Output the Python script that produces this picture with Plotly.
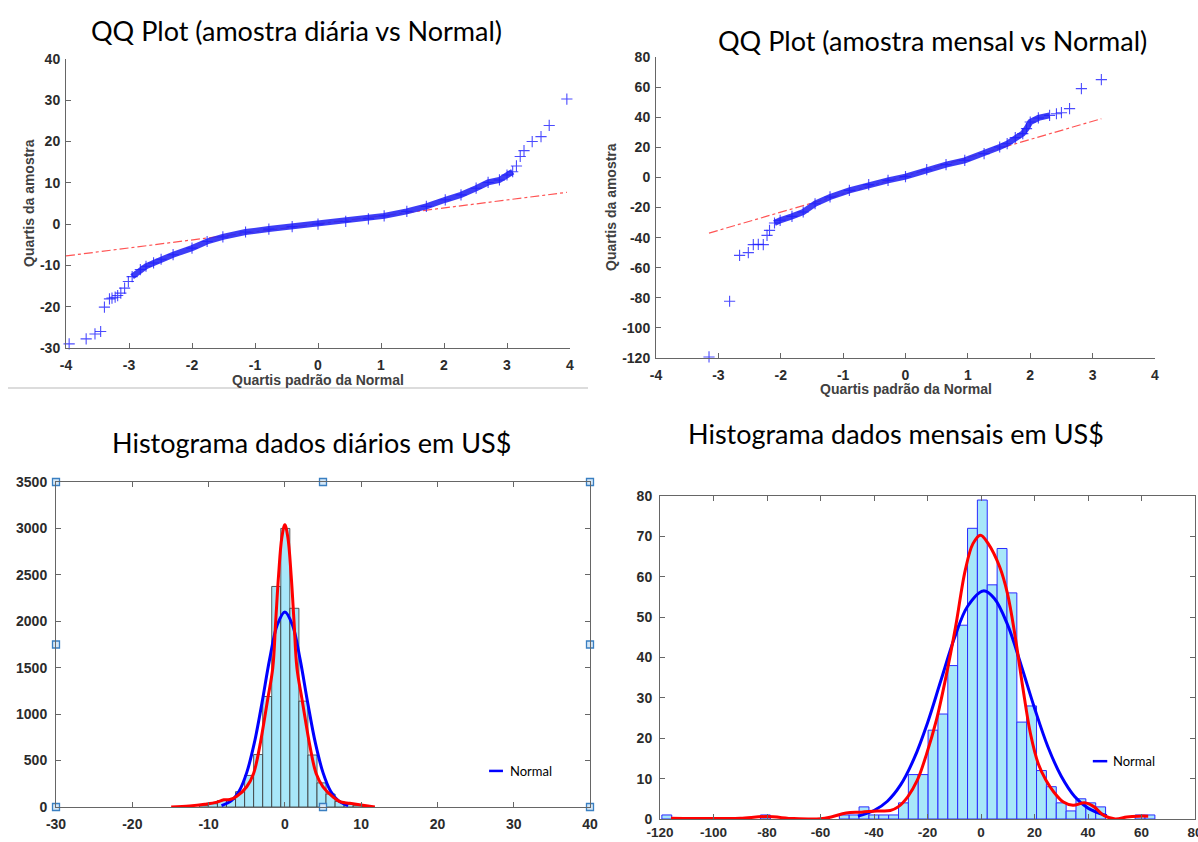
import plotly.graph_objects as go

# ---------------- DATA ----------------
# QQ plot, daily sample: theoretical normal quantile vs sample quantile
qq_d_x = [-3.95, -3.68, -3.54, -3.45, -3.39, -3.31, -3.27, -3.22, -3.18, -3.13, -3.07, -3.01, -2.95,
          -2.82, -2.73, -2.61, -2.49, -2.30, -2.00, -1.76, -1.51, -1.15, -0.78, -0.41, 0.00,
          0.44, 0.80, 1.05, 1.41, 1.72, 2.02, 2.27, 2.51, 2.70, 2.88, 3.00, 3.09, 3.15, 3.21,
          3.27, 3.40, 3.54, 3.67, 3.95]
qq_d_y = [-29.0, -27.8, -26.6, -26.0, -20.1, -18.1, -17.9, -17.7, -17.3, -16.7, -15.5, -13.9, -12.7,
          -11.0, -10.2, -9.4, -8.5, -7.4, -5.8, -4.2, -3.1, -1.9, -1.2, -0.6, 0.0,
          0.65, 1.3, 2.0, 3.1, 4.3, 5.9, 7.1, 8.7, 10.1, 10.7, 11.9, 12.7, 14.1, 16.4,
          17.8, 20.0, 21.2, 23.9, 30.3]
qq_d_dense = (12, 36)          # index span where the markers merge into a band
qq_d_ref_x = [-4.0, 3.95]
qq_d_ref_y = [-7.7, 7.7]

# QQ plot, monthly sample
qq_m_x = [-3.15, -2.82, -2.66, -2.52, -2.44, -2.36, -2.28, -2.22, -2.18, -2.10, -2.01, -1.82, -1.64,
          -1.45, -1.21, -0.90, -0.59, -0.28, 0.00, 0.34, 0.65, 0.95, 1.26, 1.51, 1.63, 1.76,
          1.88, 1.94, 2.00, 2.13, 2.31, 2.42, 2.50, 2.63, 2.82, 3.14]
qq_m_y = [-119.3, -82.3, -51.8, -50.0, -44.7, -44.5, -44.7, -38.5, -35.2, -30.3, -28.5, -25.9, -23.0,
          -17.5, -13.0, -8.6, -4.8, -2.0, 0.5, 5.1, 8.5, 11.3, 15.8, 20.2, 22.4, 26.4,
          29.1, 32.4, 36.8, 39.5, 41.2, 42.3, 43.0, 45.7, 59.0, 65.0]
qq_m_dense = (9, 30)
qq_m_ref_x = [-3.15, 3.14]
qq_m_ref_y = [-37.0, 39.0]

# Daily histogram (bin centres, counts)
hist_d_width = 1.186
hist_d_centers = [-10.61, -9.43, -8.24, -7.06, -5.87, -4.68, -3.50, -2.31, -1.13, 0.06,
                  1.25, 2.43, 3.62, 4.81, 5.99, 7.18, 8.36, 9.55, 10.73]
hist_d_counts = [15, 35, 70, 80, 165, 340, 565, 1190, 2375, 3000,
                 2140, 1140, 560, 260, 140, 60, 30, 15, 8]
normal_d_x = [-8.3, -7, -6, -5, -4, -3, -2, -1, 0, 1, 2, 3, 4, 5, 6, 7, 8.3]
normal_d_y = [15, 69, 170, 370, 690, 1120, 1590, 1960, 2100, 1960, 1590, 1120, 690, 370, 170, 69, 15]
kde_d_x = [-14.9, -12.5, -10.5, -9.0, -8.0, -7.2, -6.3, -5.0, -4.1, -3.3, -2.27, -1.58, -1.2,
           -0.82, -0.4, 0, 0.4, 0.82, 1.2, 1.58, 2.27, 3.3, 4.1, 5.0, 6.3, 7.3, 8.5, 10.0, 11.8]
kde_d_y = [0, 12, 30, 50, 78, 80, 115, 218, 362, 650, 1150, 1500, 2000,
           2500, 2900, 3040, 2900, 2500, 2000, 1500, 1150, 650, 362, 218, 110, 55, 40, 22, 0]

# Monthly histogram
hist_m_width = 3.686
hist_m_centers = [-117.46, -80.60, -51.11, -47.43, -43.74, -40.05, -36.37, -32.68, -28.99, -25.31,
                  -21.62, -17.94, -14.25, -10.56, -6.88, -3.19, 0.49, 4.18, 7.87, 11.55,
                  15.24, 18.92, 22.61, 26.30, 29.98, 33.67, 37.35, 41.04, 44.73, 59.47, 63.16]
hist_m_counts = [1, 1, 1, 1, 3, 1, 1, 1, 4, 11,
                 11, 22, 26, 38, 48, 72, 79, 58, 67, 56,
                 24, 28, 12, 8, 4, 2, 5, 4, 3, 1, 1]
normal_m_x = [-46, -40, -35, -30, -25, -20, -15, -10, -5, 0.9, 5, 10, 15, 20, 25, 30, 35, 40, 47]
normal_m_y = [0.7, 2.1, 4.4, 8.5, 15.0, 23.8, 34.3, 44.7, 52.7, 56.5, 54.6, 48.0, 38.1, 27.5,
              17.9, 10.6, 5.6, 2.7, 0.8]
kde_m_x = [-115.9, -100, -90, -80, -70, -60, -56, -50.4, -44.6, -38.9, -33.9, -31, -27.4, -23.8,
           -20.3, -16.7, -13.1, -9.5, -5.9, -3.0, -0.2, 2.7, 7.0, 9.9, 12.8, 15.6, 18.5, 21.4,
           24.3, 27.2, 30.8, 34.4, 38.7, 42.3, 45.9, 50.2, 54.5, 58.9, 62.5]
kde_m_y = [0.2, 0.1, 0.2, 0.6, 0.1, 0.05, 0.5, 1.5, 1.7, 2.0, 2.1, 3.0, 5.5, 9.6,
           16.2, 24.4, 35.2, 47.6, 61.6, 68.2, 70.3, 68.2, 62.4, 55.8, 45.1, 32.7, 21.1, 13.7,
           9.6, 6.7, 4.2, 3.4, 4.0, 3.0, 0.9, 0.0, 0.5, 0.7, 0.7]

# Tick labels
ticks_qq_x = [-4, -3, -2, -1, 0, 1, 2, 3, 4]
ticks_qq_d_y = [-30, -20, -10, 0, 10, 20, 30, 40]
ticks_qq_m_y = [-120, -100, -80, -60, -40, -20, 0, 20, 40, 60, 80]
ticks_hd_x = [-30, -20, -10, 0, 10, 20, 30, 40]
ticks_hd_y = [0, 500, 1000, 1500, 2000, 2500, 3000, 3500]
ticks_hm_x = [-120, -100, -80, -60, -40, -20, 0, 20, 40, 60, 80]
ticks_hm_y = [0, 10, 20, 30, 40, 50, 60, 70, 80]

# Figure-window selection handles shown on the daily histogram
handle_x = [-30, 5, 40, -30, 40, -30, 5, 40]
handle_y = [3500, 3500, 3500, 1750, 1750, 0, 0, 0]

titles = ["QQ Plot (amostra diária vs Normal)", "QQ Plot (amostra mensal vs Normal)",
          "Histograma dados diários em US$", "Histograma dados mensais em US$"]

# ---------------- FIGURE ----------------
W, H = 1198, 842
BLUE = "#0000ff"
RED = "#ff0000"
BAR_FILL = "#a8e7f9"

fig = go.Figure()

def qq_traces(xs, ys, dense, rx, ry, xa, ya):
    fig.add_trace(go.Scatter(x=rx, y=ry, mode="lines", xaxis=xa, yaxis=ya,
                             line=dict(color="rgba(255,40,40,0.8)", width=1.2, dash="dashdot")))
    a, b = dense
    fig.add_trace(go.Scatter(x=xs[a:b + 1], y=ys[a:b + 1], mode="lines", xaxis=xa, yaxis=ya,
                             line=dict(color="rgba(40,40,245,0.9)", width=6)))
    fig.add_trace(go.Scatter(x=xs, y=ys, mode="markers", xaxis=xa, yaxis=ya, cliponaxis=False,
                             marker=dict(symbol="cross-thin", size=8,
                                         line=dict(color="rgba(30,30,255,0.8)", width=1.1))))

qq_traces(qq_d_x, qq_d_y, qq_d_dense, qq_d_ref_x, qq_d_ref_y, "x", "y")
qq_traces(qq_m_x, qq_m_y, qq_m_dense, qq_m_ref_x, qq_m_ref_y, "x2", "y2")

# daily histogram
fig.add_trace(go.Bar(x=hist_d_centers, y=hist_d_counts, width=hist_d_width, xaxis="x3", yaxis="y3",
                     marker=dict(color=BAR_FILL, line=dict(color="#333333", width=0.8))))
fig.add_trace(go.Scatter(x=normal_d_x, y=normal_d_y, mode="lines", xaxis="x3", yaxis="y3",
                         line=dict(color=BLUE, width=3, shape="spline")))
fig.add_trace(go.Scatter(x=kde_d_x, y=kde_d_y, mode="lines", xaxis="x3", yaxis="y3",
                         line=dict(color=RED, width=3, shape="spline")))
fig.add_trace(go.Scatter(x=handle_x, y=handle_y, mode="markers", xaxis="x3", yaxis="y3",
                         cliponaxis=False,
                         marker=dict(symbol="square", size=7, color="#d6e8f7",
                                     line=dict(color="#3a7fc1", width=1.3))))

# monthly histogram
fig.add_trace(go.Bar(x=hist_m_centers, y=hist_m_counts, width=hist_m_width, xaxis="x4", yaxis="y4",
                     marker=dict(color=BAR_FILL, line=dict(color="#2a2aff", width=1))))
fig.add_trace(go.Scatter(x=normal_m_x, y=normal_m_y, mode="lines", xaxis="x4", yaxis="y4",
                         line=dict(color=BLUE, width=3, shape="spline")))
fig.add_trace(go.Scatter(x=kde_m_x, y=kde_m_y, mode="lines", xaxis="x4", yaxis="y4",
                         line=dict(color=RED, width=3, shape="spline")))

TICKFONT = dict(family="Liberation Sans", size=14, color="#2b2b2b", weight="bold")

def axis(domain, rng, vals, anchor, box=False, standoff=3, size=14):
    d = dict(domain=domain, range=rng, tickmode="array", tickvals=vals,
             ticktext=[str(v) for v in vals], showgrid=False, zeroline=False,
             showline=True, linecolor="#666666", linewidth=1, ticks="inside", ticklen=5,
             tickcolor="#666666", tickfont=dict(TICKFONT, size=size), anchor=anchor,
             fixedrange=True, automargin=False, ticklabelstandoff=standoff,
             ticklabeloverflow="allow")
    if box:
        d["mirror"] = "ticks"
    return d

def px(x):
    return x / W

def py(y):
    return 1 - y / H

fig.update_layout(
    width=W, height=H, margin=dict(l=0, r=0, t=0, b=0),
    paper_bgcolor="white", plot_bgcolor="white", showlegend=False, barmode="overlay",
    xaxis=axis([px(66), px(570)], [-4, 4], ticks_qq_x, "y", standoff=4),
    yaxis=axis([py(348), py(59)], [-30, 40], ticks_qq_d_y, "x", standoff=2),
    xaxis2=axis([px(656), px(1155)], [-4, 4], ticks_qq_x, "y2", standoff=4),
    yaxis2=axis([py(358), py(57)], [-120, 80], ticks_qq_m_y, "x2", standoff=2),
    xaxis3=axis([px(56), px(590)], [-30, 40], ticks_hd_x, "y3", box=True, standoff=4),
    yaxis3=axis([py(807), py(482)], [0, 3500], ticks_hd_y, "x3", box=True, standoff=5),
    xaxis4=axis([px(660), px(1195)], [-120, 80], ticks_hm_x, "y4", box=True, standoff=1, size=13.5),
    yaxis4=axis([py(819), py(496)], [0, 80], ticks_hm_y, "x4", box=True, standoff=4),
)

ann = []
title_pos = [(296, 30), (932, 40), (311, 442), (896, 433)]
for t, (x, y) in zip(titles, title_pos):
    ann.append(dict(text=t, x=px(x), y=py(y), xref="paper", yref="paper", showarrow=False,
                    xanchor="center", yanchor="middle",
                    font=dict(family="Lato", size=27, color="#000000")))

LABFONT = dict(family="Liberation Sans", size=14, color="#404040", weight="bold")
for t, x, y, rot in [("Quartis padrão da Normal", 318, 380, 0), ("Quartis da amostra", 29, 203, -90),
                     ("Quartis padrão da Normal", 906, 389, 0), ("Quartis da amostra", 611, 207, -90)]:
    ann.append(dict(text=t, x=px(x), y=py(y), xref="paper", yref="paper", showarrow=False,
                    xanchor="center", yanchor="middle", textangle=rot, font=LABFONT))

# small legends ("Normal")
for xr, yr, x0, x1, yy, xt in [("x3 domain", "y3 domain", 0.811, 0.837, 0.111, 0.846),
                               ("x4 domain", "y4 domain", 0.809, 0.836, 0.179, 0.843)]:
    ann.append(dict(text="Normal", x=xt, y=yy, xref=xr, yref=yr, showarrow=False,
                    xanchor="left", yanchor="middle",
                    font=dict(family="Lato", size=13, color="#000000")))

shapes = [
    dict(type="line", xref="x3 domain", yref="y3 domain", x0=0.811, x1=0.837, y0=0.111, y1=0.111,
         line=dict(color=BLUE, width=2.5)),
    dict(type="line", xref="x4 domain", yref="y4 domain", x0=0.809, x1=0.836, y0=0.179, y1=0.179,
         line=dict(color=BLUE, width=2.5)),
    dict(type="line", xref="paper", yref="paper", x0=px(8), x1=px(588), y0=py(388), y1=py(388),
         line=dict(color="#dcdcdc", width=2)),
]
fig.update_layout(annotations=ann, shapes=shapes)

fig.write_html("out.html")
